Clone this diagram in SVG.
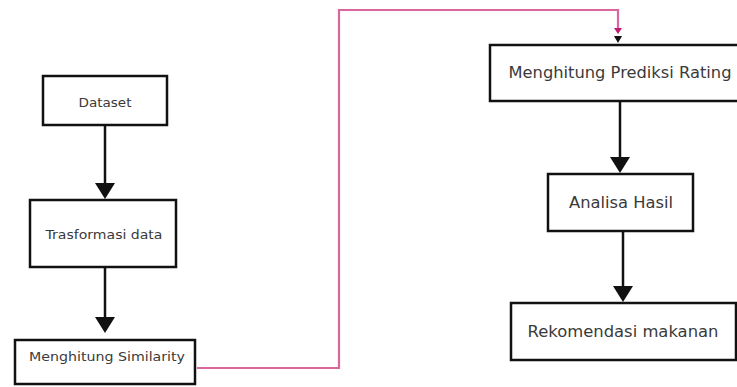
<svg xmlns="http://www.w3.org/2000/svg" width="737" height="387" viewBox="0 0 737 387">
  <style>
    .box { fill: #ffffff; stroke: #111111; stroke-width: 2.5; }
    .lbl { font-family: "DejaVu Sans", Verdana, sans-serif; fill: #3a3a3a; text-anchor: middle; }
    .sm { font-size: 13px; }
    .lg { font-size: 15px; }
    .flow { fill: none; stroke: #111111; stroke-width: 2.5; }
    .link { fill: none; stroke: #d9679e; stroke-width: 2.2; }
  </style>
  <rect width="737" height="387" fill="#ffffff"/>

  <g id="connectors">
    <path class="flow" d="M105,125 V184"/>
    <polygon points="95,183 115,183 105,199" fill="#111111"/>
    <path class="flow" d="M105,267 V318"/>
    <polygon points="95,317 115,317 105,333" fill="#111111"/>
    <path class="link" d="M197,368 H339 V10 H618 V30"/>
    <polygon points="614,28 622,28 618,34" fill="#c0196f"/>
    <polygon points="614,36 622,36 618,43" fill="#111111"/>
    <path class="flow" d="M620,101 V158"/>
    <polygon points="610,157 630,157 620,173" fill="#111111"/>
    <path class="flow" d="M623,231 V287"/>
    <polygon points="613,286 633,286 623,302" fill="#111111"/>
  </g>

  <g id="dataset">
    <rect class="box" x="43" y="76" width="124" height="49"/>
    <text class="lbl sm" x="105" y="107" textLength="53" lengthAdjust="spacingAndGlyphs">Dataset</text>
  </g>
  <g id="trasformasi">
    <rect class="box" x="30" y="200" width="146" height="67"/>
    <text class="lbl sm" x="104" y="239" textLength="117" lengthAdjust="spacingAndGlyphs">Trasformasi data</text>
  </g>
  <g id="similarity">
    <rect class="box" x="15" y="340" width="180" height="44"/>
    <text class="lbl sm" x="107" y="361" textLength="156" lengthAdjust="spacingAndGlyphs">Menghitung Similarity</text>
  </g>
  <g id="prediksi">
    <rect class="box" x="490" y="45" width="250" height="56"/>
    <text class="lbl lg" x="620" y="78" textLength="223" lengthAdjust="spacingAndGlyphs">Menghitung Prediksi Rating</text>
  </g>
  <g id="analisa">
    <rect class="box" x="548" y="174" width="145" height="57"/>
    <text class="lbl lg" x="621" y="208" textLength="104" lengthAdjust="spacingAndGlyphs">Analisa Hasil</text>
  </g>
  <g id="rekomendasi">
    <rect class="box" x="511" y="303" width="225" height="57"/>
    <text class="lbl lg" x="623" y="337" textLength="191" lengthAdjust="spacingAndGlyphs">Rekomendasi makanan</text>
  </g>
</svg>
